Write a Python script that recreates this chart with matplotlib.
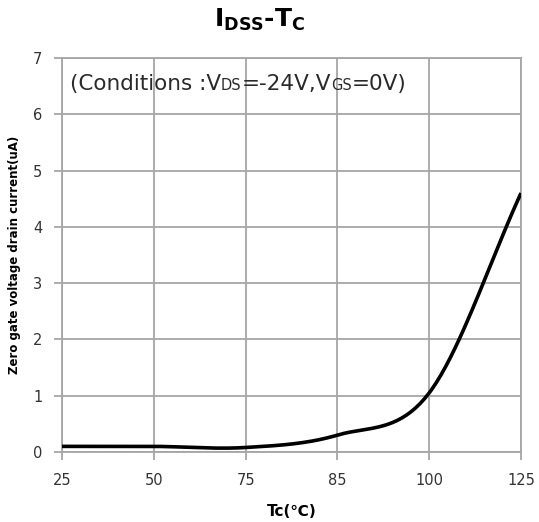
import numpy as np
import matplotlib.pyplot as plt
from matplotlib.offsetbox import TextArea, HPacker, AnchoredOffsetbox

plt.rcParams['font.family'] = ['DejaVu Sans', 'Noto Sans CJK SC']

# data (Excel smoothed line, categorical x axis)
temps = ['25', '50', '75', '85', '100', '125']
idss = [0.10, 0.10, 0.08, 0.30, 1.05, 4.60]
yticks = [0, 1, 2, 3, 4, 5, 6, 7]


def smooth(y, n=40):
    # catmull-rom through the points, like Excel's smoothed line
    y = np.asarray(y, float)
    k = len(y)
    m = np.zeros(k)
    m[1:-1] = (y[2:] - y[:-2]) / 2
    m[0] = y[1] - y[0]
    m[-1] = y[-1] - y[-2]
    xs, ys = [], []
    for i in range(k - 1):
        t = np.linspace(0, 1, n, endpoint=(i == k - 2))
        h00 = 2*t**3 - 3*t**2 + 1
        h10 = t**3 - 2*t**2 + t
        h01 = -2*t**3 + 3*t**2
        h11 = t**3 - t**2
        xs.append(i + t)
        ys.append(h00*y[i] + h10*m[i] + h01*y[i+1] + h11*m[i+1])
    return np.concatenate(xs), np.concatenate(ys)


fig = plt.figure(figsize=(5.39, 5.22), dpi=100)
ax = fig.add_axes([0.115, 0.1341, 0.8516, 0.7548])

gcol = '#a6a6a6'
x, y = smooth(idss)
ax.plot(x, y, color='black', lw=2.6, solid_capstyle='butt', zorder=3)

ax.set_xlim(0, len(temps) - 1)
ax.set_ylim(0, 7)
ax.set_xticks(range(len(temps)))
ax.set_xticklabels(temps)
ax.set_yticks(yticks)
ax.grid(True, color=gcol, lw=1.3)
ax.set_axisbelow(True)
for s in ax.spines.values():
    s.set_color(gcol)
    s.set_linewidth(1.3)
ax.tick_params(axis='both', colors=gcol, width=1.3, length=6, labelcolor='#333333',
               labelsize=10.5)
ax.tick_params(axis='x', pad=9)
ax.tick_params(axis='y', pad=8)

# conditions note, small-caps style subscripts sitting on the baseline
big = dict(fontsize=15.5, color='#2a2a2a')
small = dict(fontsize=10.5, color='#2a2a2a')
parts = [('(Conditions :V', big), ('DS', small), ('=-24V,V', big),
         ('GS', small), ('=0V)', big)]
pack = HPacker(children=[TextArea(s, textprops=p) for s, p in parts],
               align='baseline', pad=0, sep=0)
box = AnchoredOffsetbox(loc='center left', child=pack, frameon=False, pad=0,
                        bbox_to_anchor=(0.017, 0.933), bbox_transform=ax.transAxes,
                        borderpad=0)
ax.add_artist(box)

ax.set_ylabel('Zero gate voltage drain current(uA)', fontsize=8.5, fontweight='bold', labelpad=9)
ax.set_xlabel('Tc(℃)', fontsize=11, fontweight='bold', labelpad=12)

fig.text(0.482, 0.962, r'$\mathbf{I_{DSS}}$-$\mathbf{T_C}$', fontsize=18, fontweight='bold',
         ha='center', va='center')

fig.savefig('out.png', dpi=100)
